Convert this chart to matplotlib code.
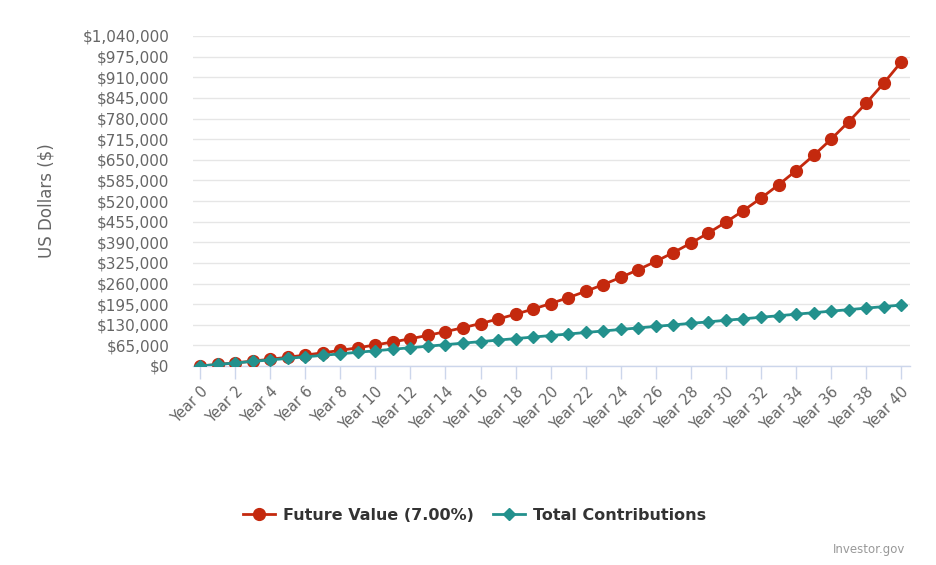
import matplotlib.pyplot as plt
from matplotlib.ticker import FuncFormatter

years = list(range(0, 41))
year_labels = ['Year %d' % y for y in years]

# values (US dollars)
future_value = [0, 4800, 9936, 15432, 21312, 27604, 34336, 41539, 49247, 57494,
                66319, 75761, 85865, 96675, 108242, 120619, 133862, 148033, 163195, 179419,
                196778, 215353, 235228, 256494, 279248, 303595, 329647, 357522, 387349, 419264,
                453412, 489951, 529047, 570881, 615642, 663537, 714785, 769619, 828293, 891073,
                958248]
total_contributions = [0, 4800, 9600, 14400, 19200, 24000, 28800, 33600, 38400, 43200,
                       48000, 52800, 57600, 62400, 67200, 72000, 76800, 81600, 86400, 91200,
                       96000, 100800, 105600, 110400, 115200, 120000, 124800, 129600, 134400, 139200,
                       144000, 148800, 153600, 158400, 163200, 168000, 172800, 177600, 182400, 187200,
                       192000]

red = '#c4290e'
teal = '#23918d'

fig = plt.figure(figsize=(9.36, 5.65), dpi=100)
ax = fig.add_axes([193 / 936, 1 - 366 / 565, (910 - 193) / 936, 330 / 565])

ax.plot(years, future_value, color=red, lw=2, marker='o', ms=8.5,
        label='Future Value (7.00%)', zorder=3)
ax.plot(years, total_contributions, color=teal, lw=2, marker='D', ms=6.5,
        label='Total Contributions', zorder=4)

ax.set_xlim(-0.4, 40.5)
ax.set_ylim(0, 1040000)
ax.set_yticks(range(0, 1040001, 65000))
ax.yaxis.set_major_formatter(FuncFormatter(lambda v, p: '${:,.0f}'.format(v)))
ax.set_xticks(years[::2])
ax.set_xticklabels(year_labels[::2], rotation=45, ha='right', va='top',
                   rotation_mode='anchor')

ax.grid(axis='y', color='#e6e6e6', lw=1)
ax.set_axisbelow(True)
for s in ['top', 'right', 'left']:
    ax.spines[s].set_visible(False)
ax.spines['bottom'].set_color('#ccd6eb')
ax.spines['bottom'].set_linewidth(1)

ax.tick_params(axis='y', length=0, pad=17, labelsize=11, labelcolor='#666666')
ax.tick_params(axis='x', length=9, color='#ccd6eb', width=1, pad=4,
               labelsize=10.5, labelcolor='#666666')

ax.set_ylabel('US Dollars ($)', fontsize=12, color='#666666')
ax.yaxis.set_label_coords(-(193 - 56) / 717, 0.5)

fig.legend(loc='center', bbox_to_anchor=(475 / 936, 1 - 515 / 565), ncol=2,
           frameon=False, handlelength=2.0, columnspacing=1.2, handletextpad=0.5,
           prop={'weight': 'bold', 'size': 11.5}, labelcolor='#333333')

fig.text(905 / 936, 1 - 549 / 565, 'Investor.gov', ha='right', va='center',
         fontsize=8.5, color='#999999')

fig.savefig('out.png', dpi=100)
